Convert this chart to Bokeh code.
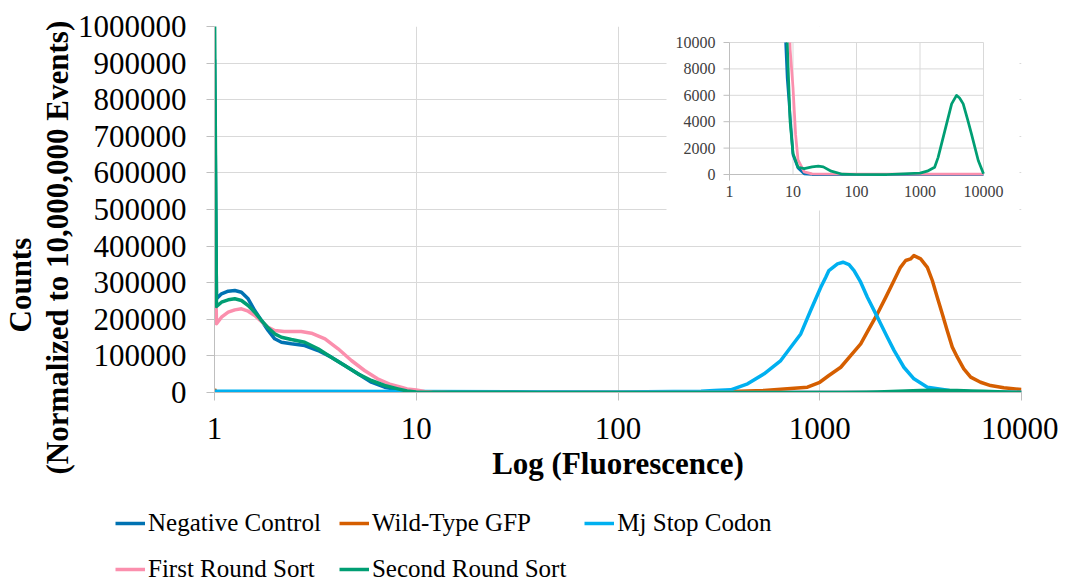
import math
from bokeh.plotting import figure
from bokeh.layouts import column
from bokeh.models import (Range1d, LogScale, FixedTicker, NumeralTickFormatter,
                          Legend, LegendItem, Title)
from bokeh.core.properties import value
from bokeh.embed import file_html
from bokeh.resources import INLINE

# ---------------- data ----------------
x_ticks = [1, 10, 100, 1000, 10000]
y_ticks = [0, 100000, 200000, 300000, 400000, 500000, 600000, 700000, 800000, 900000, 1000000]
inset_x_ticks = [1, 10, 100, 1000, 10000]
inset_y_ticks = [0, 2000, 4000, 6000, 8000, 10000]

series_names = ["Negative Control", "Wild-Type GFP", "Mj Stop Codon",
                "First Round Sort", "Second Round Sort"]

nc_x = [1.0, 1.023, 1.083, 1.169, 1.261, 1.36, 1.468, 1.583, 1.709, 1.844, 1.988, 2.146,
        2.405, 2.8, 3.26, 3.79, 4.42, 5.14, 5.99, 6.97, 8.11, 10, 12, 15, 20, 100, 1000, 10000]
nc_y = [910000, 256000, 269600, 276800, 278700, 274000, 256000, 224000, 196700, 169400,
        146700, 137400, 133000, 128400, 114700, 96500, 73800, 51000, 28200, 14500, 7300,
        1500, 500, 50, 0, 0, 0, 0]

wt_x = [1.0, 1.02, 10, 100, 300, 530, 869, 1000, 1110, 1271, 1423, 1596, 1754, 1931, 2123,
        2334, 2512, 2667, 2820, 2930, 3163, 3414, 3614, 3823, 4047, 4285, 4539, 4807, 5176,
        5599, 6266, 7030, 8170, 10000]
wt_y = [9000, 500, 200, 300, 1500, 5500, 14500, 28000, 46400, 69000, 101000, 133000, 174000,
        215000, 260000, 306000, 342000, 360600, 365000, 374000, 365000, 342000, 306000,
        260000, 215000, 169000, 124000, 96500, 64700, 42000, 28000, 19000, 12800, 8200]

mj_x = [1.0, 10, 100, 258, 300, 362, 439, 530, 641, 718, 805, 901, 1012, 1071, 1110, 1224,
        1304, 1397, 1479, 1596, 1722, 1931, 2004, 2163, 2334, 2612, 2930, 3414, 4400, 6000,
        10000]
mj_y = [3500, 2500, 1500, 3500, 5500, 7300, 23700, 51000, 87400, 123800, 160000, 224000,
        287700, 315000, 333300, 351600, 356000, 349700, 333300, 301400, 260400, 206000,
        187700, 151000, 115000, 69000, 37400, 14500, 5500, 1500, 500]

fr_x = [1.0, 1.023, 1.083, 1.169, 1.261, 1.36, 1.468, 1.583, 1.709, 1.844, 1.988, 2.21,
        2.69, 3.02, 3.53, 4.1, 4.77, 5.54, 6.43, 7.47, 8.4, 9.0, 10, 11, 12, 15, 20, 100,
        1000, 10000]
fr_y = [470000, 187700, 205700, 219400, 225800, 228700, 222200, 210400, 194000, 178400,
        169400, 166700, 166700, 162000, 146700, 119400, 87400, 60100, 37400, 21900, 14500,
        9500, 6600, 3000, 1100, 200, 50, 30, 30, 30]

sr_x = [1.0, 1.023, 1.083, 1.169, 1.261, 1.36, 1.468, 1.583, 1.709, 1.844, 1.988, 2.146,
        2.405, 2.8, 3.26, 3.79, 4.42, 5.14, 5.99, 6.97, 8.11, 9.0, 10, 12, 15, 20, 25, 30,
        40, 60, 100, 300, 1000, 1300, 1700, 1930, 2460, 3150, 3760, 4200, 4790, 5600, 6460,
        8270, 10000]
sr_y = [1050000, 235000, 246700, 253200, 256000, 251300, 237700, 219400, 196700, 176700,
        160300, 151100, 144800, 137400, 119400, 96500, 73800, 51000, 32800, 19100, 10000,
        4000, 1600, 550, 450, 580, 630, 580, 250, 20, 0, 0, 100, 250, 550, 1300, 3300,
        5350, 5990, 5800, 5350, 4200, 3080, 1060, 50]

colors = ["#0072B2", "#D55E00", "#00B0F0", "#FB8FAD", "#009E73"]

# ---------------- layout constants (pixels) ----------------
BL, BR, BT, BB = 213, 37, 26, 116
FW, FH = 807, 366
LEG_H = 76
# inset plot area in canvas pixels
IX0, IX1 = 728, 982      # x=1 .. x=10000
IY0, IY1 = 174, 42       # y=0 .. y=10000
# inset white panel in canvas pixels
PX0, PX1, PY0, PY1 = 665, 1018, 210, 26
TICK = 6

IMAX_X, IMAX_Y = 10000, 10000
dec_per_px = math.log10(IMAX_X) / (IX1 - IX0)
val_per_px = IMAX_Y / (IY0 - IY1)


def inset_x(px):
    return 10 ** ((px - IX0) * dec_per_px)


def inset_y(py):
    return (IY0 - py) * val_per_px


inset_xr = Range1d(inset_x(BL), inset_x(BL + FW))
inset_yr = Range1d(inset_y(BT + FH), inset_y(BT))

FONT = "Liberation Serif"

p = figure(frame_width=FW, frame_height=FH, x_axis_type="log",
           x_range=Range1d(1, 10000), y_range=Range1d(0, 1000000),
           output_backend="svg", toolbar_location=None,
           min_border_left=BL, min_border_right=BR, min_border_top=BT,
           min_border_bottom=BB,
           extra_x_ranges={"inset": inset_xr}, extra_y_ranges={"inset": inset_yr},
           extra_x_scales={"inset": LogScale()})
p.outline_line_color = None
p.background_fill_color = "white"
p.border_fill_color = "white"

# axes
for ax in (p.xaxis[0], p.yaxis[0]):
    ax.axis_line_color = "#BFBFBF"
    ax.major_tick_line_color = "#BFBFBF"
    ax.major_tick_out = 8
    ax.major_tick_in = 0
    ax.minor_tick_line_color = None
    ax.major_label_text_font = FONT
    ax.major_label_text_font_size = "31px"
    ax.major_label_text_color = "black"

p.xaxis.ticker = FixedTicker(ticks=x_ticks)
p.xaxis.formatter = NumeralTickFormatter(format="0")
p.yaxis.ticker = FixedTicker(ticks=y_ticks)
p.yaxis.formatter = NumeralTickFormatter(format="0")
p.yaxis.major_label_standoff = 20
p.xaxis.major_label_standoff = 17
p.xaxis.axis_label = "Log (Fluorescence)"
p.xaxis.axis_label_text_font = FONT
p.xaxis.axis_label_text_font_style = "bold"
p.xaxis.axis_label_text_font_size = "31px"
p.xaxis.axis_label_text_color = "black"
p.xaxis.axis_label_standoff = 4

p.xgrid.grid_line_color = "#D9D9D9"
p.ygrid.grid_line_color = "#D9D9D9"
p.xgrid.ticker = FixedTicker(ticks=x_ticks)
p.ygrid.ticker = FixedTicker(ticks=y_ticks)

# y axis title (two lines, as side-panel titles)
p.add_layout(Title(text="(Normalized to 10,000,000 Events)", align="left", offset=-82,
                   text_font=FONT, text_font_style="bold", text_font_size="31px",
                   text_color="black", standoff=0), "left")
p.add_layout(Title(text="Counts", align="left", offset=60,
                   text_font=FONT, text_font_style="bold", text_font_size="31px",
                   text_color="black", standoff=0), "left")

# main lines
all_x = [nc_x, wt_x, mj_x, fr_x, sr_x]
all_y = [nc_y, wt_y, mj_y, fr_y, sr_y]
for xs, ys, c in zip(all_x, all_y, colors):
    p.line(xs, ys, line_color=c, line_width=3.5, line_join="round")

# ---------------- inset ----------------
p.quad(left=[inset_x(PX0)], right=[inset_x(PX1)], bottom=[inset_y(PY0)], top=[inset_y(PY1)],
       fill_color="white", line_color=None, x_range_name="inset", y_range_name="inset",
       level="guide")

gx0, gx1 = inset_x_ticks[0], inset_x_ticks[-1]
gy0, gy1 = inset_y_ticks[0], inset_y_ticks[-1]
h_ticks = inset_y_ticks[1:]
v_ticks = inset_x_ticks[1:]
p.segment(x0=[gx0] * len(h_ticks), x1=[gx1] * len(h_ticks), y0=h_ticks, y1=h_ticks,
          line_color="#D9D9D9", line_width=1, x_range_name="inset", y_range_name="inset",
          level="annotation")
p.segment(x0=v_ticks, x1=v_ticks, y0=[gy0] * len(v_ticks), y1=[gy1] * len(v_ticks),
          line_color="#D9D9D9", line_width=1, x_range_name="inset", y_range_name="inset",
          level="annotation")
# inset axis lines
p.segment(x0=[gx0, gx0], x1=[gx1, gx0], y0=[gy0, inset_y(IY0 + TICK)], y1=[gy0, gy1],
          line_color="#BFBFBF", line_width=1, x_range_name="inset", y_range_name="inset",
          level="annotation")
# inset y tick marks
p.segment(x0=[inset_x(IX0 - TICK)] * len(inset_y_ticks), x1=[gx0] * len(inset_y_ticks),
          y0=inset_y_ticks, y1=inset_y_ticks,
          line_color="#BFBFBF", line_width=1, x_range_name="inset", y_range_name="inset",
          level="annotation")


def clip_top(xs, ys, top):
    """clip a polyline at y=top (interpolating in log x)."""
    ox, oy = [], []
    for i in range(len(xs)):
        x, y = xs[i], ys[i]
        if i > 0:
            xp, yp = xs[i - 1], ys[i - 1]
            if (yp > top) != (y > top):
                t = (top - yp) / (y - yp)
                lx = math.log10(xp) + t * (math.log10(x) - math.log10(xp))
                ox.append(10 ** lx)
                oy.append(top)
        if y <= top:
            ox.append(x)
            oy.append(y)
        else:
            ox.append(float("nan"))
            oy.append(float("nan"))
    return ox, oy


for idx in (0, 3, 4):
    cx, cy = clip_top(all_x[idx], all_y[idx], gy1)
    p.line(cx, cy, line_color=colors[idx], line_width=2.75, line_join="round",
           x_range_name="inset", y_range_name="inset", level="overlay")

p.text(x=[gx0] * len(inset_y_ticks), y=inset_y_ticks, text=[str(v) for v in inset_y_ticks],
       x_offset=-14, text_align="right", text_baseline="middle",
       text_font=value(FONT), text_font_size="16px", text_color="#404040",
       x_range_name="inset", y_range_name="inset", level="overlay")
p.text(x=inset_x_ticks, y=[gy0] * len(inset_x_ticks), text=[str(v) for v in inset_x_ticks],
       y_offset=11, text_align="center", text_baseline="top",
       text_font=value(FONT), text_font_size="16px", text_color="#404040",
       x_range_name="inset", y_range_name="inset", level="overlay")

# ---------------- legend strip (separate figure below the chart) ----------------
W = BL + FW + BR
lg = figure(frame_width=W, frame_height=LEG_H, x_axis_type="log",
            x_range=Range1d(1, 10000), y_range=Range1d(-2e6, -1e6),
            x_axis_location=None, y_axis_location=None,
            output_backend="svg", toolbar_location=None,
            min_border_left=0, min_border_right=0, min_border_top=0, min_border_bottom=0)
lg.outline_line_color = None
lg.grid.visible = False
lg.background_fill_color = "white"
lg.border_fill_color = "white"
leg_renderers = [lg.line(xs, ys, line_color=c, line_width=3.5)
                 for xs, ys, c in zip(all_x, all_y, colors)]

# location = bottom-left corner of the legend, measured from the strip's bottom-left
legend = Legend(items=[LegendItem(label=n, renderers=[r])
                       for n, r in zip(series_names, leg_renderers)],
                location=(115, 1), orientation="horizontal", ncols=3,
                background_fill_alpha=0, border_line_alpha=0, padding=0, margin=0,
                label_text_font_size="25px", label_text_color="black",
                glyph_width=30, glyph_height=26, label_height=26, label_standoff=3,
                spacing=18)
legend.label_text_font = FONT
lg.add_layout(legend, "center")

layout = column(p, lg, spacing=0)
open("out.html", "w").write(file_html(layout, INLINE))
